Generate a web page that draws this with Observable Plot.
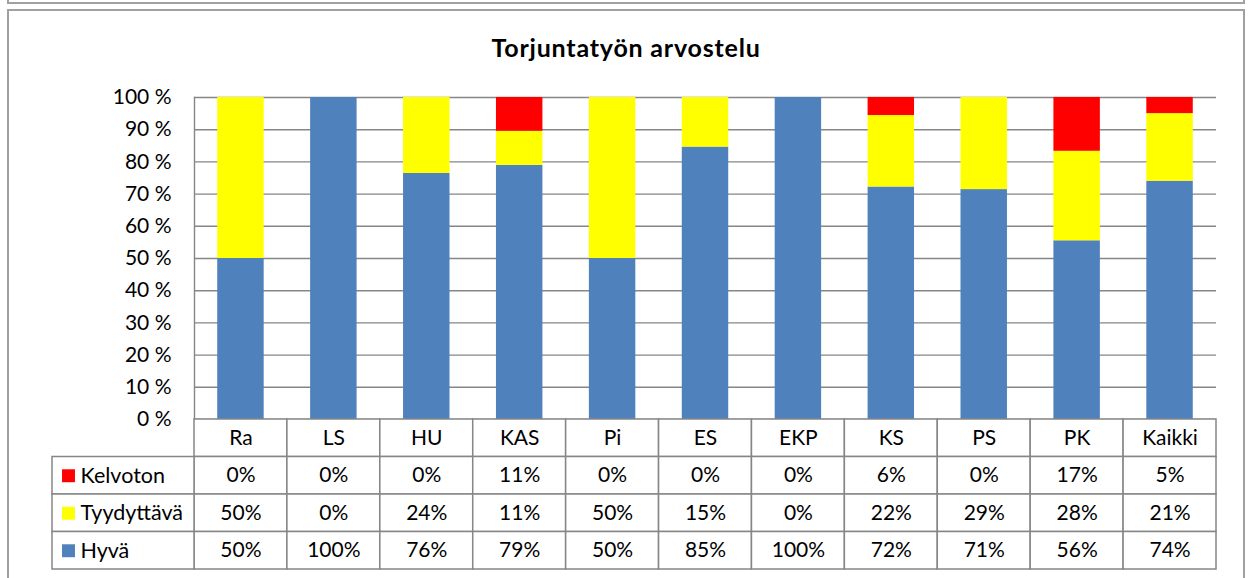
<!DOCTYPE html>
<html><head><meta charset="utf-8">
<script src="https://cdn.jsdelivr.net/npm/d3@7"></script>
<script src="https://cdn.jsdelivr.net/npm/@observablehq/plot@0.6"></script>
<style>
body{margin:0;background:#fff;font-family:Lato,'Open Sans',sans-serif;}
#wrap{position:relative;width:1251px;height:578px;overflow:hidden;}
.frame{position:absolute;box-sizing:border-box;border:2px solid #a0a0a0;}
#title{position:absolute;left:7px;width:1238px;top:35px;text-align:center;font-weight:700;font-size:25px;letter-spacing:0.8px;line-height:25px;color:#000;}
#chart{position:absolute;left:0;top:80px;}
#table{position:absolute;left:0;top:418px;}
</style></head>
<body><div id="wrap">
<div class="frame" style="left:7px;top:-20px;width:1238px;height:24px"></div>
<div class="frame" style="left:7px;top:9px;width:1238px;height:600px"></div>
<div id="title">Torjuntatyön arvostelu</div>
<div id="chart"></div><div id="table"></div>
</div>
<script>
const categories = ["Ra","LS","HU","KAS","Pi","ES","EKP","KS","PS","PK","Kaikki"];
const hyva       = [50, 100, 76.4, 78.9, 50, 84.6, 100, 72.2, 71.4, 55.5, 74];
const tyydyttava = [50,   0, 23.6, 10.6, 50, 15.4,   0, 22.2, 28.6, 27.8, 21];
const kelvoton   = [ 0,   0,  0,   10.5,  0,  0,     0,  5.6,  0,   16.7,  5];
const series = ["Hyvä","Tyydyttävä","Kelvoton"];
const tableRows = ["Kelvoton","Tyydyttävä","Hyvä"];
const colors = ["#4F81BD","#FFFF00","#FF0000"];
const yTicks = [0,10,20,30,40,50,60,70,80,90,100];

const valuesBySeries = {"Hyvä": hyva, "Tyydyttävä": tyydyttava, "Kelvoton": kelvoton};
const data = series.flatMap(s => categories.map((c,i) => ({category:c, series:s, value:valuesBySeries[s][i]})));

const font = "Lato, 'Open Sans', sans-serif";
const gridColor = "#868686";

const chart = Plot.plot({
  width:1251, height:340,
  marginTop:17, marginBottom:1, marginLeft:194, marginRight:35,
  style:{fontFamily:font, fontSize:"21px", color:"#000", background:"transparent", overflow:"visible"},
  x:{domain:categories, paddingInner:0.5, paddingOuter:0.25, round:false, axis:null},
  y:{domain:[0,100]},
  color:{domain:series, range:colors},
  marks:[
    Plot.gridY(yTicks, {stroke:gridColor, strokeOpacity:1, strokeWidth:1.4}),
    Plot.frame({anchor:"left", stroke:gridColor, strokeWidth:1.4}),
    Plot.barY(data, {x:"category", y:"value", fill:"series"}),
    Plot.axisY(yTicks, {tickSize:0, tickPadding:23, tickFormat:d => d + " %", fontSize:21, label:null, fill:"#000"})
  ]
});
document.getElementById("chart").appendChild(chart);

// data table below the chart
const L = 142 / ((1216 - 194) / 11); // label column width in column units
const headerCells = categories.map((c,i) => ({row:"", i, text:c}));
const valueCells = tableRows.flatMap(s => categories.map((c,i) => ({row:s, i, text:Math.round(valuesBySeries[s][i]) + "%"})));
const cells = headerCells.concat(valueCells);

const table = Plot.plot({
  width:1251, height:153,
  marginTop:1, marginBottom:2, marginLeft:52, marginRight:35,
  style:{fontFamily:font, fontSize:"21px", color:"#000", background:"transparent", overflow:"visible"},
  x:{domain:[-L, 11], axis:null},
  y:{domain:["", ...tableRows], padding:0, round:false, axis:null},
  color:{domain:series, range:colors},
  marks:[
    Plot.barX(cells, {x1:"i", x2:d => d.i + 1, y:"row", fill:"white", stroke:gridColor, strokeWidth:1.5}),
    Plot.barX(tableRows, {x1:() => -L, x2:() => 0, y:d => d, fill:"white", stroke:gridColor, strokeWidth:1.5}),
    Plot.text(cells, {x:d => d.i + 0.5, y:"row", text:"text", fontSize:21, fill:"#000"}),
    Plot.dot(tableRows, {x:() => -L, y:d => d, dx:16, symbol:"square", r:7.3, fill:d => d, stroke:null}),
    Plot.text(tableRows, {x:() => -L, y:d => d, dx:28, text:d => d, textAnchor:"start", fontSize:21.5, fill:"#000"})
  ]
});
document.getElementById("table").appendChild(table);
</script>
</body></html>
